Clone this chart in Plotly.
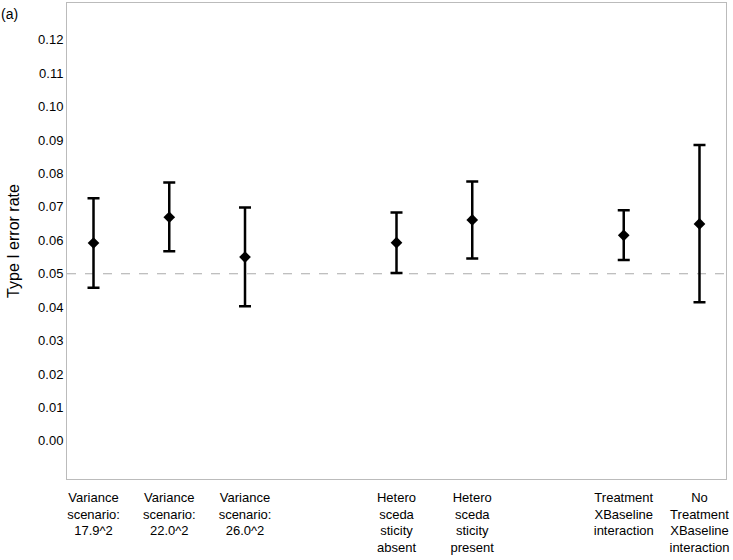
import plotly.graph_objects as go

labels = [
    "Variance<br>scenario:<br>17.9^2",
    "Variance<br>scenario:<br>22.0^2",
    "Variance<br>scenario:<br>26.0^2",
    "Hetero<br>sceda<br>sticity<br>absent",
    "Hetero<br>sceda<br>sticity<br>present",
    "Treatment<br>XBaseline<br>interaction",
    "No<br>Treatment<br>XBaseline<br>interaction",
]
positions = [1, 2, 3, 5, 6, 8, 9]
estimate = [0.0592, 0.0669, 0.0550, 0.0593, 0.0661, 0.0615, 0.0649]
upper = [0.0726, 0.0773, 0.0698, 0.0683, 0.0776, 0.0690, 0.0885]
lower = [0.0458, 0.0567, 0.0403, 0.0502, 0.0546, 0.0541, 0.0415]
nominal = 0.05
ytick_vals = [0.00, 0.01, 0.02, 0.03, 0.04, 0.05, 0.06, 0.07, 0.08, 0.09, 0.10, 0.11, 0.12]

err_plus = [u - e for u, e in zip(upper, estimate)]
err_minus = [e - l for e, l in zip(estimate, lower)]

font_family = "Liberation Sans, Arial, sans-serif"

fig = go.Figure()
fig.add_trace(go.Scatter(
    x=positions, y=estimate, mode="markers",
    marker=dict(symbol="diamond", size=9, color="black"),
    error_y=dict(type="data", symmetric=False, array=err_plus, arrayminus=err_minus,
                 color="black", thickness=2.5, width=6),
    showlegend=False, cliponaxis=False,
))

fig.add_shape(type="line", xref="paper", x0=0, x1=1, yref="y", y0=nominal, y1=nominal,
              line=dict(color="#aaaaaa", width=1, dash="dash"), layer="below")

fig.update_layout(
    width=733, height=560,
    margin=dict(l=67, r=7, t=3, b=81, autoexpand=False),
    plot_bgcolor="white", paper_bgcolor="white",
    font=dict(family=font_family, color="black", size=13),
    xaxis=dict(range=[0.65, 9.35], tickvals=positions, ticktext=labels,
               showgrid=False, zeroline=False, showline=True, mirror=True,
               linecolor="#bbbbbb", linewidth=1, ticks="", tickfont=dict(size=13),
               ticklabelstandoff=6, automargin=False),
    yaxis=dict(range=[-0.0114, 0.131], tickvals=ytick_vals,
               ticktext=[f"{v:.2f}" for v in ytick_vals],
               showgrid=False, zeroline=False, showline=True, mirror=True,
               linecolor="#bbbbbb", linewidth=1, ticks="", ticklen=0,
               tickfont=dict(size=13), automargin=False,
               title=dict(text="Type I error rate", font=dict(size=16), standoff=14)),
    annotations=[dict(text="(a)", xref="paper", yref="paper", x=-0.087, y=0.997,
                      xanchor="center", yanchor="top", showarrow=False,
                      font=dict(size=14))],
)

fig.write_html("out.html", config={"displayModeBar": False},
               post_script="document.body.style.margin='0';document.documentElement.style.margin='0';")
